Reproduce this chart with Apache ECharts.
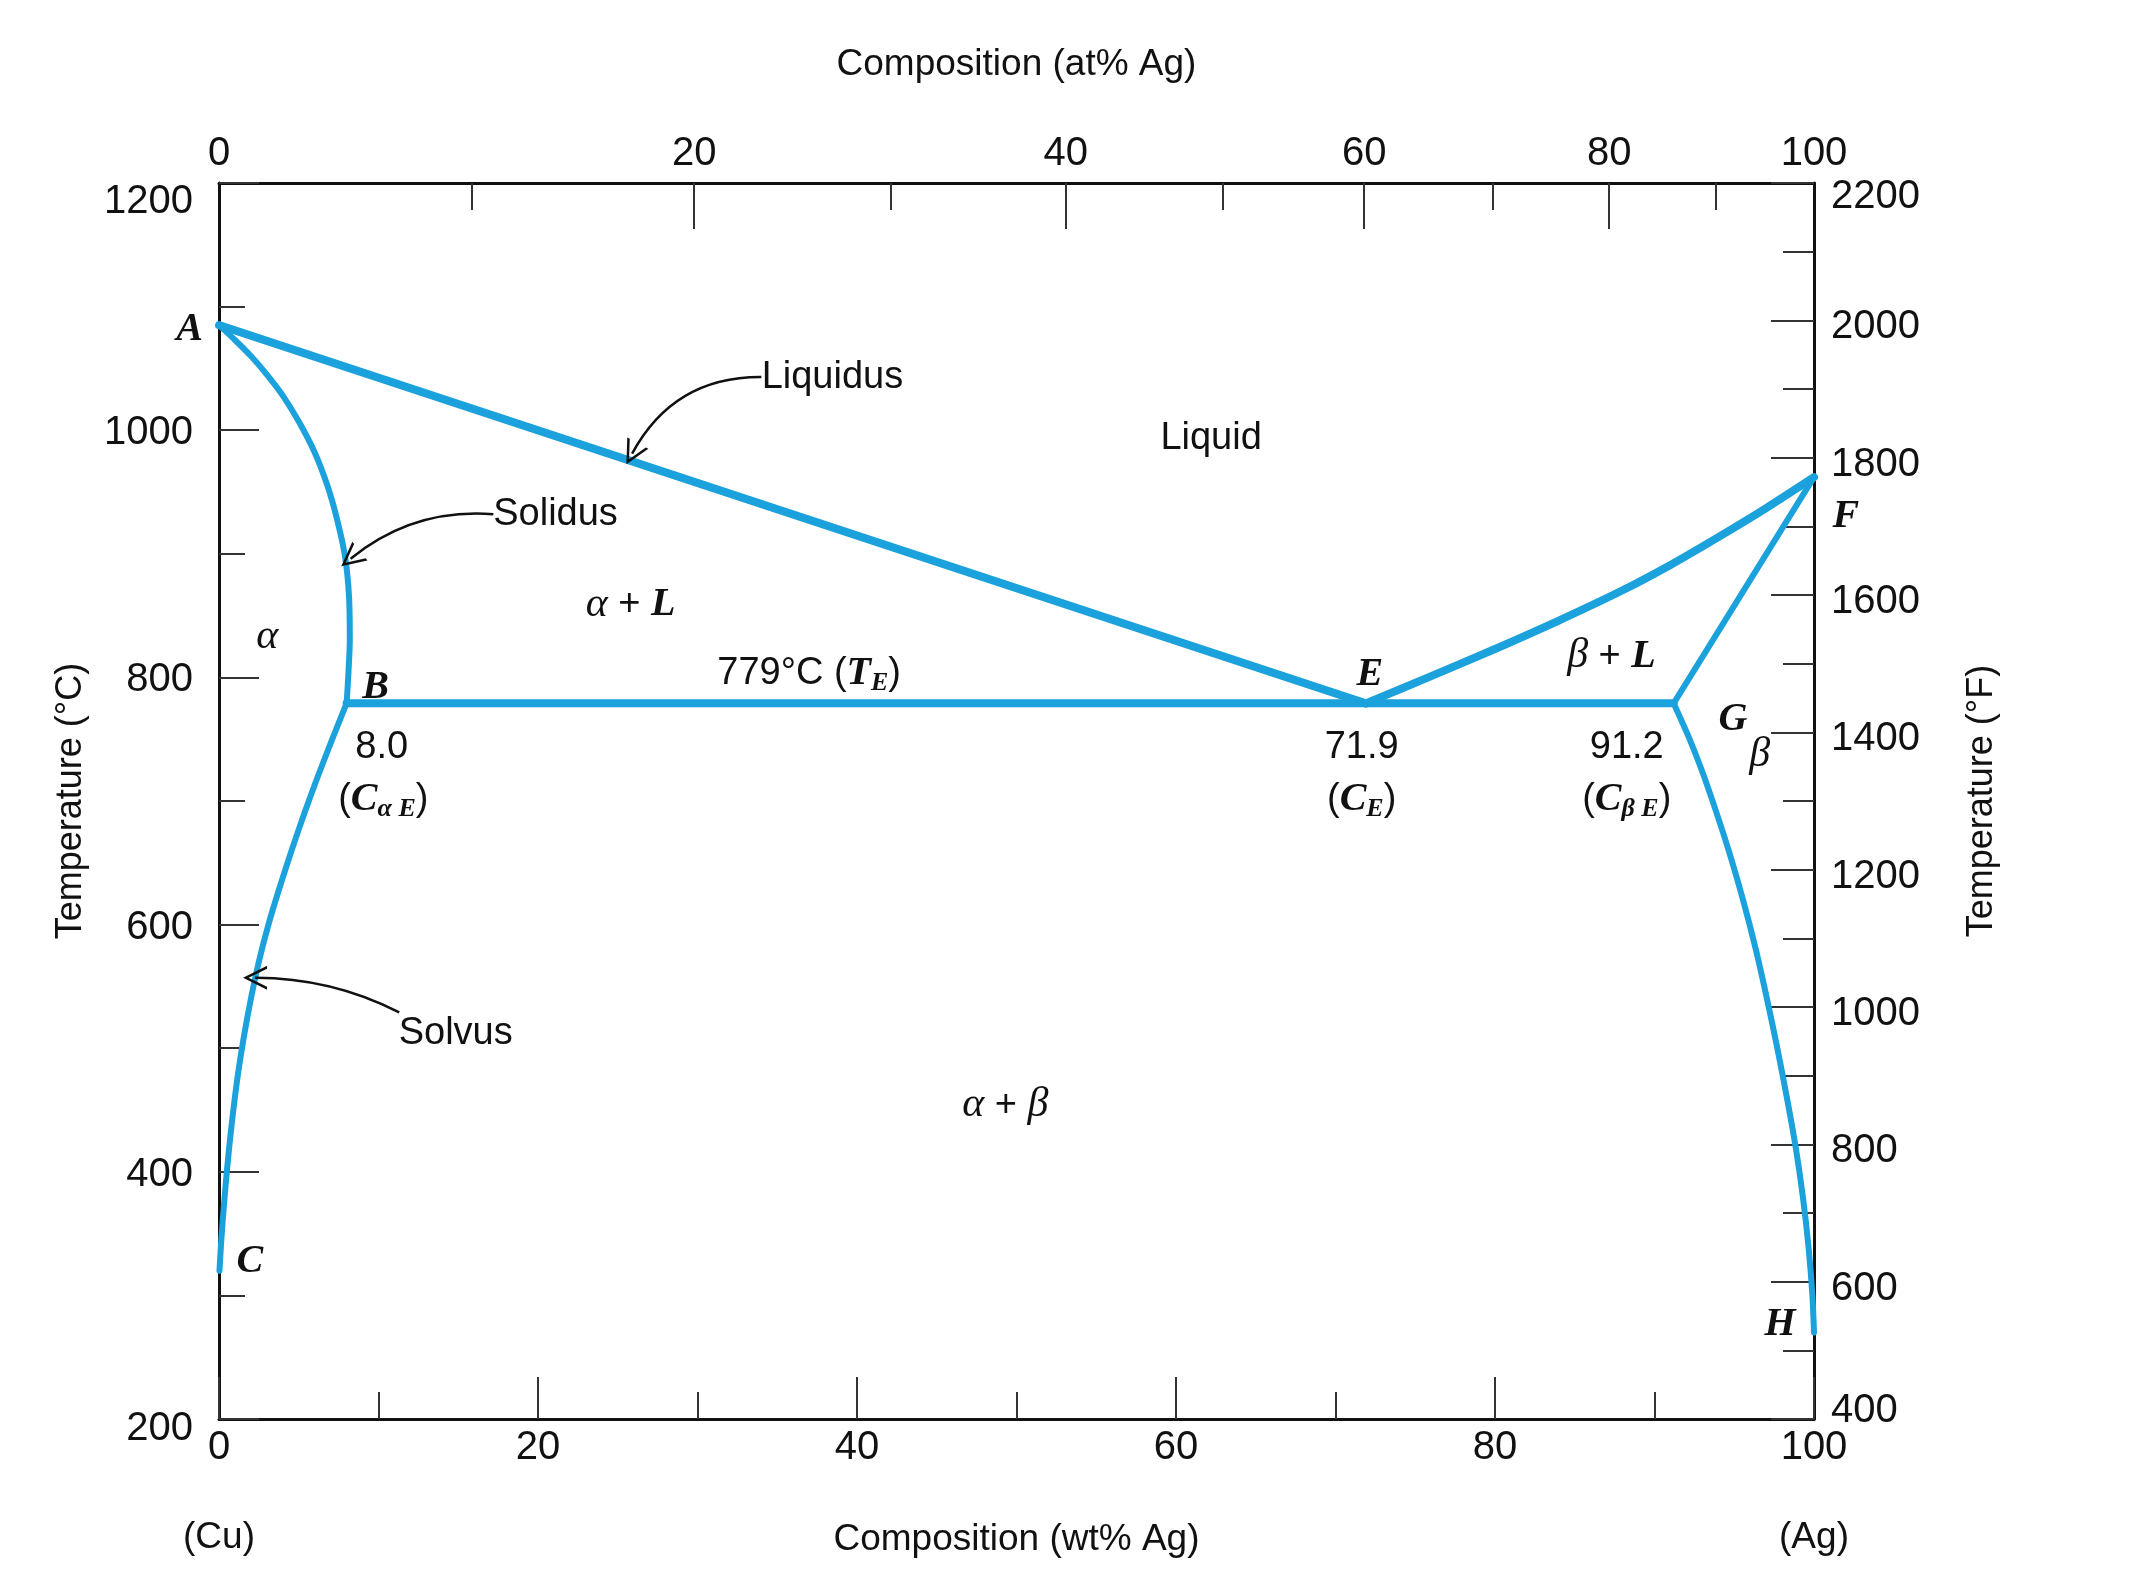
<!DOCTYPE html>
<html><head><meta charset="utf-8">
<script src="https://cdn.jsdelivr.net/npm/echarts@6/dist/echarts.min.js"></script>
<style>html,body{margin:0;padding:0;background:#fff}#c{width:2142px;height:1580px}</style>
</head><body><div id="c"></div>
<script>
// ---------- data (wt% Ag, °C) ----------
const liquidusLeft  = [[0,1085],[71.9,779]];
const solidusLeft   = [[0,1085],[1,1073],[2,1060],[3,1045],[4,1028],[5,1007],[6,982],[6.8,955],[7.4,928],[7.9,898],[8.15,866],[8.2,830],[8.1,800],[8.0,779]];
const solvusLeft    = [[8.0,779],[7.1,750],[6.2,720],[5.35,690],[4.55,660],[3.8,630],[3.1,600],[2.5,570],[2.0,540],[1.57,510],[1.2,480],[0.9,450],[0.64,420],[0.42,390],[0.23,360],[0.12,340],[0.03,320]];
const eutecticLine  = [[8.0,779],[91.2,779]];
const liquidusRight = [[71.9,779],[76,801],[80,823],[84,846],[88,870.5],[91,891],[94,913.5],[97,937],[100,962]];
const solidusRight  = [[91.2,779],[100,962]];
const solvusRight   = [[91.2,779],[92.2,750],[93.1,720],[93.9,690],[94.65,660],[95.55,620],[96.35,580],[97.05,540],[97.7,500],[98.3,460],[98.85,420],[99.3,380],[99.65,340],[99.9,300],[100,270]];

// axis ticks / labels
const wtLabels    = [0,20,40,60,80,100];
const tempCLabels = [200,400,600,800,1000,1200];
const tempFLabels = [400,600,800,1000,1200,1400,1600,1800,2000,2200];
const atMajor  = [20,40,60,80];
const atMinor  = [10,30,50,70,90];
const atLabels = [0,20,40,60,80,100];
const M_AG = 107.87, M_CU = 63.55;

// annotations: [wt%, °C, text]
const pointLetters = [[-1.84,1081,'A'],[9.82,792,'B'],[1.93,327,'C'],[72.16,802,'E'],[102.0,930,'F'],[94.92,766,'G'],[97.87,276,'H']];
const phaseLabels  = [[3.02,833,'{g|α}'],[25.8,859,'{g|α }{n|+ }{i|L}'],[62.2,993,'{n|Liquid}'],[87.3,817,'{g|β }{n|+ }{i|L}'],[96.6,737,'{g|β}'],[49.3,454,'{g|α }{n|+ }{g|β}']];
const compLabels   = [[37.0,803,'{n|779°C (}{i|T}{s|E}{n|)}'],[10.2,743,'{n|8.0}'],[10.3,701,'{n|(}{i|C}{s|α E}{n|)}'],[71.64,743,'{n|71.9}'],[71.64,701,'{n|(}{i|C}{s|E}{n|)}'],[88.26,743,'{n|91.2}'],[88.26,701,'{n|(}{i|C}{s|β E}{n|)}']];
const curveNames   = [[38.46,1043,'Liquidus'],[21.1,932,'Solidus'],[14.84,512,'Solvus']];
const arrows       = [[[34.0,1043],[25.9,981]],[[17.2,932],[8.25,896]],[[11.3,529],[2.26,557]]];

// ---------- helpers ----------
function atToWt(a){ return a*M_AG/(a*M_AG+(100-a)*M_CU)*100; }
function wtToAt(w){ const na=w/M_AG, nc=(100-w)/M_CU; return na/(na+nc)*100; }
const BLUE = '#1ba1dc';
const INK = '#111';
const SANS = 'Liberation Sans, Arial, sans-serif';
const SERIF = 'Liberation Serif, Times New Roman, serif';
const richBase = {
  n:{fontFamily:SANS,fontSize:38,color:INK,lineHeight:46},
  i:{fontFamily:SERIF,fontStyle:'italic',fontWeight:'bold',fontSize:40,color:INK,lineHeight:46},
  g:{fontFamily:SERIF,fontStyle:'italic',fontWeight:'normal',fontSize:42,color:INK,lineHeight:46},
  s:{fontFamily:SERIF,fontStyle:'italic',fontWeight:'bold',fontSize:26,color:INK,lineHeight:26,verticalAlign:'bottom'}
};
const tickFont = {fontFamily:SANS,fontSize:40,color:INK};

function curve(data,width,smooth){
  return {type:'line',data:data,xAxisIndex:0,yAxisIndex:0,showSymbol:false,symbol:'none',
    smooth:smooth?0.25:false,clip:false,z:5,
    lineStyle:{color:BLUE,width:width,cap:'round',join:'round'}};
}
const annot = [];
pointLetters.forEach(p=>annot.push({value:[p[0],p[1]],label:{formatter:p[2],fontFamily:SERIF,fontStyle:'italic',fontWeight:'bold',fontSize:40,color:INK}}));
phaseLabels.forEach(p=>annot.push({value:[p[0],p[1]],label:{formatter:p[2],rich:richBase}}));
compLabels.forEach(p=>annot.push({value:[p[0],p[1]],label:{formatter:p[2],rich:richBase}}));
curveNames.forEach(p=>annot.push({value:[p[0],p[1]],label:{formatter:p[2],fontFamily:SANS,fontSize:38,color:INK}}));

const chevron = 'path://M10,0 L20,26 L17.6,26 L10,6 L2.4,26 L0,26 Z';
const arrowCurves = [-0.3,-0.2,-0.12];

const option = {
  animation:false,
  backgroundColor:'#fff',
  grid:{left:219,right:328,top:183,bottom:161,containLabel:false},
  xAxis:[
    {type:'value',position:'bottom',min:0,max:100,interval:20,
     name:'Composition (wt% Ag)',nameLocation:'middle',nameGap:102,
     nameTextStyle:{fontFamily:SANS,fontSize:37,color:INK},
     axisLine:{show:true,onZero:false,lineStyle:{color:INK,width:3}},
     axisTick:{show:true,inside:true,length:42,lineStyle:{color:'#333',width:2}},
     minorTick:{show:true,splitNumber:2,length:27,lineStyle:{color:'#333',width:2}},
     axisLabel:{...tickFont,margin:9},
     splitLine:{show:false}},
    {type:'value',position:'top',min:0,max:100,
     name:'Composition (at% Ag)',nameLocation:'middle',nameGap:100,
     nameTextStyle:{fontFamily:SANS,fontSize:37,color:INK},
     axisLine:{show:true,onZero:false,lineStyle:{color:INK,width:3}},
     axisTick:{show:true,inside:true,length:46,customValues:atMajor.map(atToWt),lineStyle:{color:'#333',width:2}},
     axisLabel:{...tickFont,margin:9,customValues:atLabels.map(atToWt),formatter:v=>String(Math.round(wtToAt(v)))},
     splitLine:{show:false}},
    {type:'value',position:'top',min:0,max:100,
     axisLine:{show:false,onZero:false},
     axisTick:{show:true,inside:true,length:27,customValues:atMinor.map(atToWt),lineStyle:{color:'#333',width:2}},
     axisLabel:{show:false},splitLine:{show:false}},
    {type:'value',position:'bottom',min:0,max:100,
     axisLine:{show:false,onZero:false},axisTick:{show:false},
     axisLabel:{...tickFont,fontSize:37,margin:100,customValues:[0,100],formatter:v=>v===0?'(Cu)':'(Ag)'},
     splitLine:{show:false}}
  ],
  yAxis:[
    {type:'value',position:'left',min:200,max:1200,interval:200,
     name:'Temperature (°C)',nameLocation:'middle',nameGap:130,nameRotate:90,
     nameTextStyle:{fontFamily:SANS,fontSize:36,color:INK},
     axisLine:{show:true,onZero:false,lineStyle:{color:INK,width:3}},
     axisTick:{show:true,inside:true,length:40,lineStyle:{color:'#333',width:2}},
     minorTick:{show:true,splitNumber:2,length:26,lineStyle:{color:'#333',width:2}},
     axisLabel:{...tickFont,margin:26,
       formatter:v=>v===1200?'{d19|1200}':(v===200?'{d10|200}':'{d3|'+v+'}'),
       rich:{d19:{...tickFont,padding:[38,0,0,0]},d10:{...tickFont,padding:[20,0,0,0]},d3:{...tickFont,padding:[6,0,0,0]}}},
     splitLine:{show:false}},
    {type:'value',position:'right',min:400,max:2200,interval:200,
     name:'Temperature (°F)',nameLocation:'middle',nameGap:150,nameRotate:90,
     nameTextStyle:{fontFamily:SANS,fontSize:36,color:INK},
     axisLine:{show:true,onZero:false,lineStyle:{color:INK,width:3}},
     axisTick:{show:true,inside:true,length:43,lineStyle:{color:'#333',width:2}},
     minorTick:{show:true,splitNumber:2,length:31,lineStyle:{color:'#333',width:2}},
     axisLabel:{...tickFont,margin:17,
       formatter:v=>v===2200?'{u14|2200}':(v===400?'{m8|400}':'{u7|'+v+'}'),
       rich:{u14:{...tickFont,padding:[28,0,0,0]},u7:{...tickFont,padding:[14,0,0,0]},m8:{...tickFont,padding:[0,0,16,0]}}},
     splitLine:{show:false}}
  ],
  series:[
    curve(liquidusLeft,8,false),
    curve(solidusLeft,6,true),
    curve(solvusLeft,6,true),
    curve(eutecticLine,8,false),
    curve(liquidusRight,8,true),
    curve(solidusRight,6,false),
    curve(solvusRight,6,true),
    {type:'lines',coordinateSystem:'cartesian2d',xAxisIndex:0,yAxisIndex:0,z:6,
     symbol:['none',chevron],symbolSize:[18,24],
     lineStyle:{color:INK,width:2.5,opacity:1},
     data:arrows.map((a,k)=>({coords:[a[0],a[1]],lineStyle:{curveness:arrowCurves[k]}}))},
    {type:'scatter',xAxisIndex:0,yAxisIndex:0,symbolSize:0,clip:false,z:7,silent:true,
     itemStyle:{opacity:1},
     label:{show:true,position:'inside',color:INK,textBorderWidth:0,opacity:1},
     emphasis:{disabled:true},
     data:annot}
  ]
};
const chart = echarts.init(document.getElementById('c'),null,{renderer:'canvas'});
chart.setOption(option);
</script></body></html>
